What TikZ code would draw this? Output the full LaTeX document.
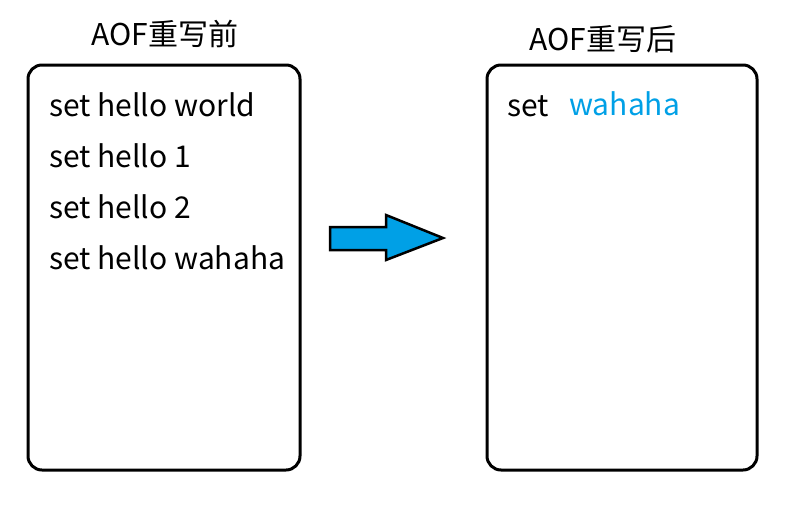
\documentclass[tikz,border=0pt]{standalone}
\usepackage{fontspec}
\setmainfont{Noto Sans CJK SC}
\definecolor{arrowblue}{RGB}{0,160,230}
\begin{document}
\begin{tikzpicture}[x=1pt,y=-1pt,
  panel/.style={draw,line width=3pt,rounded corners=14pt},
  txt/.style={anchor=west,inner sep=0pt,font=\fontsize{30}{34}\selectfont},
  ttl/.style={inner sep=0pt,font=\fontsize{30}{34}\selectfont}]
\useasboundingbox (0,0) rectangle (795,509);
\draw[panel] (28,65) rectangle (300,470);
\draw[panel] (487,65) rectangle (757,470);
\node[ttl] (t1) at (165,34) {AOF重写前};
\node[ttl] (t2) at (603,39) {AOF重写后};
\node[txt] (l1) at (49,105) {set hello world};
\node[txt] (l2) at (49,156) {set hello 1};
\node[txt] (l3) at (49,207) {set hello 2};
\begin{scope}
\clip (40,235) rectangle (298,270);
\node[txt] (l4) at (49,258) {set hello wahaha};
\end{scope}
\node[txt] (r1) at (507,106) {set};
\node[txt,text=arrowblue] (r2) at (569,104) {wahaha};
\draw[line width=2.5pt,fill=arrowblue,line join=miter]
  (330,227) -- (386,227) -- (386,215) -- (443,238) -- (386,260) -- (386,250) -- (330,250) -- cycle;
\end{tikzpicture}
\end{document}
